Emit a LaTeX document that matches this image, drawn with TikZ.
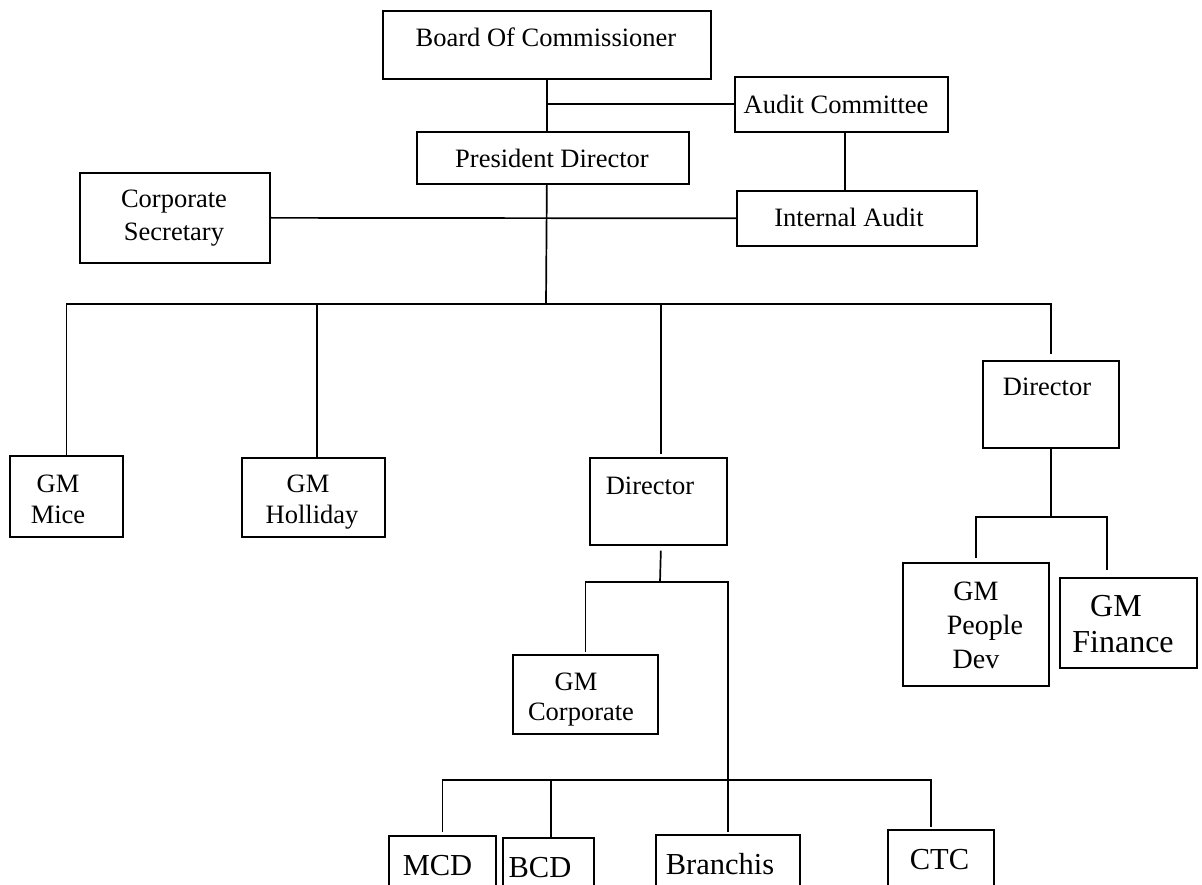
\documentclass[tikz,border=0pt]{standalone}
\usepackage{fontspec}
\setmainfont{Liberation Serif}
\begin{document}
\begin{tikzpicture}[x=1pt,y=-1pt,
  orgbox/.style={draw, line width=1.7pt, inner sep=0pt, anchor=north west},
  lbl/.style={inner sep=0pt, anchor=north, align=center, font=\fontsize{26.5}{31}\selectfont},
  biglbl/.style={lbl, font=\fontsize{30.5}{36}\selectfont},
  link/.style={line width=1.7pt}]
\useasboundingbox (0,0) rectangle (1202,885);
\clip (0,0) rectangle (1202,885);

% boxes
\node[orgbox, minimum width=328, minimum height=68] (board)    at (382,10)  {};
\node[orgbox, minimum width=213, minimum height=55] (audit)    at (734,76)  {};
\node[orgbox, minimum width=272, minimum height=52] (pres)     at (416,131) {};
\node[orgbox, minimum width=240, minimum height=55] (intaudit) at (736,190) {};
\node[orgbox, minimum width=190, minimum height=90] (corpsec)  at (79,172)  {};
\node[orgbox, minimum width=113, minimum height=81] (gmmice)   at (9,455)   {};
\node[orgbox, minimum width=143, minimum height=79] (gmholl)   at (241,457) {};
\node[orgbox, minimum width=137, minimum height=87] (dirmid)   at (589,457) {};
\node[orgbox, minimum width=136, minimum height=87] (dirright) at (982,360) {};
\node[orgbox, minimum width=145, minimum height=79] (gmcorp)   at (512,654) {};
\node[orgbox, minimum width=146, minimum height=123] (gmpeople) at (902,562) {};
\node[orgbox, minimum width=137, minimum height=90] (gmfin)    at (1059,577) {};
\node[orgbox, minimum width=107, minimum height=85] (mcd)      at (388,835) {};
\node[orgbox, minimum width=91,  minimum height=85] (bcd)      at (502,837) {};
\node[orgbox, minimum width=144, minimum height=85] (branchis) at (655,834) {};
\node[orgbox, minimum width=106, minimum height=90] (ctc)      at (887,829) {};

% labels
\node[lbl] (board-t)    at (546,28)  {Board Of Commissioner};
\node[lbl] (audit-t)    at (836,95)  {Audit Committee};
\node[lbl] (pres-t)     at (552,149) {President Director};
\node[lbl] (intaudit-t) at (849,208) {Internal Audit};
\node[lbl, font=\fontsize{26.5}{33}\selectfont] (corpsec-t) at (174,190) {Corporate\\Secretary};
\node[lbl] (gmmice-t)   at (58,475)  {GM\\Mice};
\node[lbl] (gmholl-t)   at (308,475) {GM\\\hspace*{8pt}Holliday};
\node[lbl] (dirmid-t)   at (650,477) {Director};
\node[lbl] (dirright-t) at (1047,378) {Director};
\node[lbl, font=\fontsize{26.5}{30}\selectfont] (gmcorp-t) at (576,673) {GM\\\hspace*{10pt}Corporate};
\node[lbl, font=\fontsize{28}{34}\selectfont] (gmpeople-t) at (976,582) {GM\\\hspace*{18pt}People\\Dev};
\node[lbl, font=\fontsize{32}{36}\selectfont] (gmfin-t) at (1116,595) {GM\\\hspace*{14pt}Finance};
\node[biglbl] (mcd-t)      at (437.5,855) {MCD};
\node[biglbl] (bcd-t)      at (540,857)   {BCD};
\node[biglbl] (branchis-t) at (720,853)   {Branchis};
\node[biglbl] (ctc-t)      at (939.5,849) {CTC};

% junction points
\coordinate (bus)    at (546,304);
\coordinate (split)  at (660,582);
\coordinate (lowbus) at (726,780);
\coordinate (rsplit) at (1050,517);
\coordinate (acdown) at ([xshift=3.5pt]audit.south);
\coordinate (hollin) at ([xshift=3.5pt]gmholl.north);
\coordinate (dirin)  at ([xshift=2.5pt,yshift=3pt]dirmid.north);
\coordinate (dirout) at ([xshift=2.5pt,yshift=-5pt]dirmid.south);
\coordinate (rdirin) at ([yshift=6pt]dirright.north);
\coordinate (corpin) at ([yshift=2pt]gmcorp.north);
\coordinate (peoin)  at ([yshift=4pt]gmpeople.north);
\coordinate (finin)  at ([xshift=-21.5pt,yshift=7pt]gmfin.north);
\coordinate (mcdin)  at ([yshift=3pt]mcd.north);
\coordinate (bcdin)  at ([xshift=2.5pt]bcd.north);
\coordinate (brin)   at ([yshift=2pt]branchis.north);
\coordinate (ctcin)  at ([xshift=-10pt,yshift=2pt]ctc.north);

% connectors
\draw[link] (board.south) -- (board.south |- pres.north);
\draw[link] (board.south |- audit.west) -- (audit.west);
\draw[link] (acdown) -- (acdown |- intaudit.north);
\draw[link] (corpsec.east) -- (intaudit.west);
\draw[link] (board.south |- pres.south) -- (bus);
\draw[link] (gmmice.north) -- (gmmice.north |- bus) -- (rdirin |- bus) -- (rdirin);
\draw[link] (hollin) -- (hollin |- bus);
\draw[link] (dirin) -- (dirin |- bus);
\draw[link] (dirout) -- (split);
\draw[link] (corpin) -- (corpin |- split) -- (brin |- split) -- (brin);
\draw[link] (mcdin) -- (mcdin |- lowbus) -- (ctcin |- lowbus) -- (ctcin);
\draw[link] (bcdin) -- (bcdin |- lowbus);
\draw[link] (dirright.south) -- (dirright.south |- rsplit);
\draw[link] (peoin) -- (peoin |- rsplit) -- (finin |- rsplit) -- (finin);
\end{tikzpicture}
\end{document}
